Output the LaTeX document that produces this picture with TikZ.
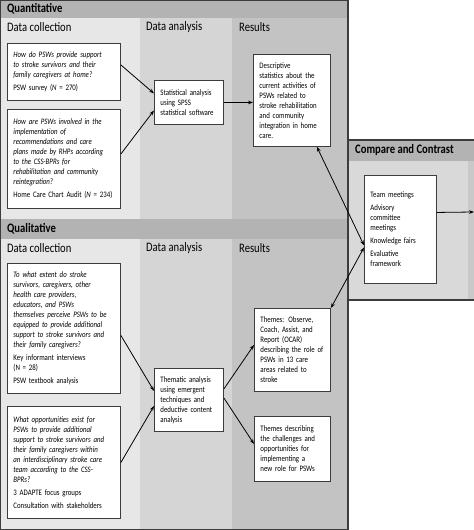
\documentclass[tikz,border=0pt]{standalone}
\usepackage{fontspec}
\setmainfont{Carlito}[FakeStretch=0.82]
\usepackage{tikz}
\usetikzlibrary{arrows.meta}
\hyphenpenalty=10000

\definecolor{bandgray}{HTML}{B3B3B3}
\definecolor{colone}{HTML}{E7E7E7}
\definecolor{coltwo}{HTML}{D5D5D5}
\definecolor{colthree}{HTML}{C3C3C3}
\definecolor{cmpbody}{HTML}{D9D9D9}
\definecolor{cmpstrip}{HTML}{C9C9C9}
\definecolor{framegray}{HTML}{3C3C3C}

\tikzset{
  textbox/.style={draw=framegray, line width=0.9pt, fill=white, anchor=north west,
    align=left, inner xsep=6bp, inner ysep=3bp, font=\fontsize{8.4}{10}\selectfont},
  bandtitle/.style={anchor=west, inner sep=0pt, font=\fontsize{13}{15}\selectfont\bfseries},
  coltitle/.style={anchor=west, inner sep=0pt, font=\fontsize{13}{15}\selectfont},
  flow/.style={-{Stealth[length=5pt,width=3.6pt]}, line width=0.8pt},
  twoway/.style={{Stealth[length=5pt,width=3.6pt]}-{Stealth[length=5pt,width=3.6pt]}, line width=0.8pt},
}

\begin{document}
\begin{tikzpicture}[x=1bp, y=-1bp]
  \useasboundingbox (0,0) rectangle (474,530);

  % columns and bands
  \fill[colone] (0,18) rectangle (140,530);
  \fill[coltwo] (140,18) rectangle (232,530);
  \fill[colthree] (232,18) rectangle (348,530);
  \fill[bandgray] (0,0) rectangle (348,18);
  \fill[bandgray] (0,219) rectangle (348,239);
  \draw[framegray, line width=1.4pt] (0,0) rectangle (348,530);

  % compare and contrast panel
  \fill[cmpbody] (348,140) rectangle (474,300);
  \fill[cmpstrip] (468,161) rectangle (474,300);
  \fill[bandgray] (348,140) rectangle (474,161);
  \draw[framegray, line width=1.4pt] (474,140) -- (348,140) -- (348,300) -- (474,300);

  % titles
  \node[bandtitle] (quanttitle) at (7,9) {Quantitative};
  \node[coltitle] (quantcol1) at (7,27) {Data collection};
  \node[coltitle] (quantcol2) at (146,27) {Data analysis};
  \node[coltitle] (quantcol3) at (239,27) {Results};
  \node[bandtitle] (qualtitle) at (7,229) {Qualitative};
  \node[coltitle] (qualcol1) at (7,248) {Data collection};
  \node[coltitle] (qualcol2) at (146,248) {Data analysis};
  \node[coltitle] (qualcol3) at (239,248) {Results};
  \node[bandtitle] (cmptitle) at (355,150) {Compare and Contrast};

  % quantitative boxes
  \node[textbox, text width=101bp, minimum height=57bp] (q1) at (7,43)
    {\textit{How do PSWs provide support\\ to stroke survivors and their\\ family caregivers at home?}\\[3bp]
     PSW survey (\textit{N} = 270)};
  \node[textbox, text width=101bp, minimum height=99bp] (q2) at (7,109)
    {\textit{How are PSWs involved in the\\ implementation of\\ recommendations and care\\ plans made by RHPs according\\ to the CSS-BPRs for\\ rehabilitation and community\\ reintegration?}\\[3bp]
     Home Care Chart Audit (\textit{N} = 234)};
  \node[textbox, text width=57bp, minimum height=44bp] (stat) at (154,80)
    {Statistical analysis\\ using SPSS\\ statistical software};
  \node[textbox, text width=65bp, minimum height=92bp] (desc) at (253,54)
    {Descriptive\\ statistics about the\\ current activities of\\ PSWs related to\\ stroke rehabilitation\\ and community\\ integration in home\\ care.};

  % compare box
  \node[textbox, text width=60bp, minimum height=108bp] (cmp) at (364,175)
    {Team meetings\\[3bp] Advisory\\ committee\\ meetings\\[3bp] Knowledge fairs\\[3bp] Evaluative\\ framework};
  \coordinate (exit) at (474,212);

  % qualitative boxes
  \node[textbox, text width=101bp, minimum height=130bp] (ql1) at (7,263)
    {\textit{To what extent do stroke\\ survivors, caregivers, other\\ health care providers,\\ educators, and PSWs\\ themselves perceive PSWs to be\\ equipped to provide additional\\ support to stroke survivors and\\ their family caregivers?}\\[3bp]
     Key informant interviews\\ (N = 28)\\[3bp] PSW textbook analysis};
  \node[textbox, text width=101bp, minimum height=112bp] (ql2) at (7,406)
    {\textit{What opportunities exist for\\ PSWs to provide additional\\ support to stroke survivors and\\ their family caregivers within\\ an interdisciplinary stroke care\\ team according to the CSS-\\ BPRs?}\\[3bp]
     3 ADAPTE focus groups\\[3bp] Consultation with stakeholders};
  \node[textbox, text width=57bp, minimum height=63bp] (them) at (154,368)
    {Thematic analysis\\ using emergent\\ techniques and\\ deductive content\\ analysis};
  \node[textbox, text width=64bp, minimum height=83bp] (ocar) at (254,308)
    {Themes: Observe,\\ Coach, Assist, and\\ Report (OCAR)\\ describing the role of\\ PSWs in 13 care\\ areas related to\\ stroke};
  \node[textbox, text width=64bp, minimum height=65bp] (chal) at (254,416)
    {Themes describing\\ the challenges and\\ opportunities for\\ implementing a\\ new role for PSWs};

  % connectors
  \draw[flow] ([yshift=7bp]q1.east) -- ([yshift=9bp]stat.west);
  \draw[flow] ([yshift=5bp]q2.east) -- ([yshift=-8bp]stat.west);
  \draw[flow] (stat.east) -- (stat.east -| desc.west);
  \draw[twoway] ([xshift=-14bp]desc.south east) -- ([yshift=-16bp]cmp.west);
  \draw[twoway] (ocar.north east) -- ([yshift=-18bp]cmp.west);
  \draw[flow] ([yshift=17bp]cmp.east) -- (exit);

  \draw[flow] ([yshift=-7bp]ql1.east) -- ([yshift=9bp]them.west);
  \draw[flow] (ql2.east) -- ([yshift=-6bp]them.west);
  \draw[flow] ([yshift=11bp]them.east) -- ([yshift=5bp]ocar.west);
  \draw[flow] ([yshift=2bp]them.east) -- ([yshift=5bp]chal.west);
\end{tikzpicture}
\end{document}
